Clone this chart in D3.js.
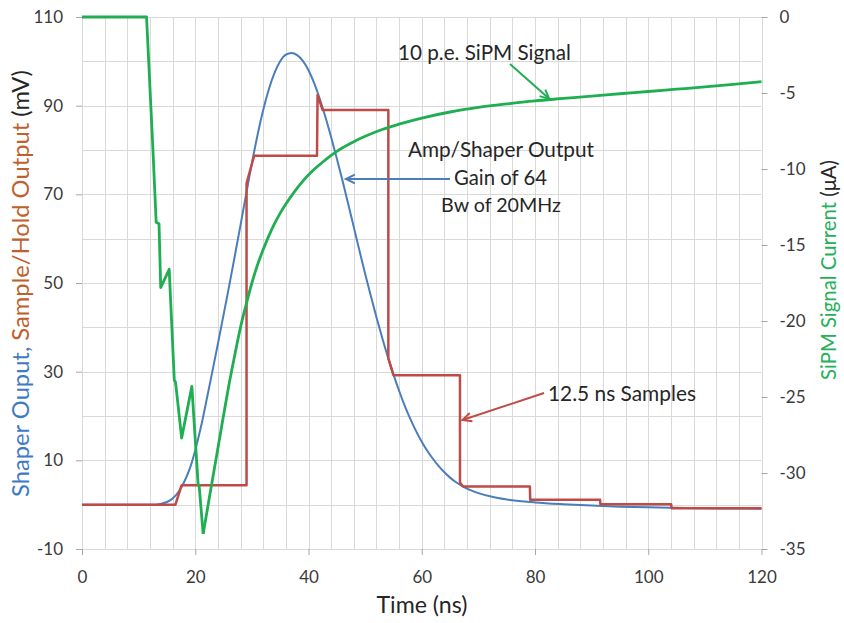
<!DOCTYPE html>
<html><head><meta charset="utf-8">
<script src="https://cdn.jsdelivr.net/npm/d3@7"></script>
<style>html,body{margin:0;padding:0;background:#fff;}svg{display:block;font-family:Lato,"Open Sans",sans-serif;}</style>
</head><body><svg id="c" width="844" height="623"></svg>
<script>
// ---- data ----
const xTicks = [0, 20, 40, 60, 80, 100, 120];
const yLeftTicks = [-10, 10, 30, 50, 70, 90, 110];
const yRightTicks = [-35, -30, -25, -20, -15, -10, -5, 0];

// Amp/Shaper output (mV) : time (ns), value
const shaperT = [0, 13, 14, 15, 16, 17, 18, 19, 20, 21, 22, 23, 24, 25, 26, 27, 28, 29, 30, 31, 32, 33, 34, 35, 36, 37, 38, 39, 40, 41, 42, 43, 44, 45, 46, 47, 48, 49, 50, 51, 52, 53, 54, 55, 56, 57, 58, 59, 60, 61, 62, 63, 64, 65, 66, 67, 68, 70, 73, 76, 80, 85, 90, 95, 100, 105, 110, 115, 120];
const shaperV = [0, 0, 0.2, 0.6, 1.4, 2.8, 5.0, 8.0, 12.3, 17.5, 23.6, 29.9, 36.3, 42.8, 49.4, 56.2, 63.1, 70.1, 77.0, 83.4, 89.0, 93.7, 97.4, 100.0, 101.5, 101.9, 101.4, 100.1, 98.0, 95.1, 91.5, 87.4, 82.9, 78.1, 73.1, 67.9, 62.6, 57.3, 52.1, 47.1, 42.3, 37.7, 33.4, 29.4, 25.7, 22.3, 19.3, 16.6, 14.2, 12.1, 10.3, 8.7, 7.3, 6.1, 5.1, 4.3, 3.6, 2.6, 1.6, 1.0, 0.5, 0.1, -0.2, -0.45, -0.6, -0.72, -0.8, -0.86, -0.9];

// Sample/Hold output (mV), 12.5 ns samples
const holdT = [0, 16.5, 17.6, 29.06, 29.06, 30.4, 41.5, 41.6, 42.5, 54.1, 54.1, 55.0, 66.75, 66.75, 67.3, 79.1, 79.15, 91.5, 91.55, 104.05, 104.1, 120];
const holdV = [0, 0, 4.4, 4.4, 72.5, 78.7, 78.7, 92.4, 89, 89, 33, 29.2, 29.2, 5, 4.1, 4.1, 1.1, 1.1, 0.1, 0.1, -0.8, -0.8];

// 10 p.e. SiPM signal current (uA)
const sipmT = [0, 11.4, 12.5, 13.1, 13.6, 13.9, 15.4, 16.3, 16.5, 16.6, 17.6, 19.4, 20.5, 20.7, 21.4, 22.5, 23.8, 25, 26, 27, 28, 29, 30, 31, 32, 33, 34, 35, 36, 37.5, 39, 40.5, 42, 44, 46, 48, 50, 53, 56, 60, 65, 70, 75, 80, 85, 90, 95, 100, 105, 110, 115, 120];
const sipmV = [0, 0, -8.5, -13.5, -13.6, -17.8, -16.6, -23.9, -24.0, -24.3, -27.7, -24.3, -30.7, -30.9, -34.0, -31.6, -28.8, -26.2, -24.1, -22.2, -20.4, -18.9, -17.5, -16.3, -15.3, -14.4, -13.6, -12.9, -12.3, -11.5, -10.8, -10.2, -9.7, -9.1, -8.6, -8.2, -7.85, -7.4, -7.05, -6.65, -6.25, -5.95, -5.72, -5.52, -5.36, -5.2, -5.05, -4.9, -4.75, -4.6, -4.43, -4.25];

// ---- layout ----
const svg = d3.select("#c");
const L = 82, R = 761.5, T = 17, B = 549;
const x = d3.scaleLinear().domain([0, 120]).range([L, R]);
const yL = d3.scaleLinear().domain([-10, 110]).range([B, T]);
const yR = d3.scaleLinear().domain([-35, 0]).range([B, T]);

const cBlue = "#4a7ebb", cRed = "#be4b48", cGreen = "#1fae52";
const gridC = "#d9d9d9", tickC = "#a6a6a6", labC = "#3a3a3a";

// grid
const g = svg.append("g");
g.selectAll("line.v").data(d3.range(0, 121, 4)).join("line")
  .attr("x1", d => Math.round(x(d)) + 0.5).attr("x2", d => Math.round(x(d)) + 0.5)
  .attr("y1", T).attr("y2", B).attr("stroke", gridC).attr("stroke-width", 1);
g.selectAll("line.h").data(d3.range(-10, 111, 10)).join("line")
  .attr("y1", d => Math.round(yL(d)) + 0.5).attr("y2", d => Math.round(yL(d)) + 0.5)
  .attr("x1", L).attr("x2", R).attr("stroke", gridC).attr("stroke-width", 1);

function styleAxis(sel) {
  sel.select(".domain").remove();
  sel.selectAll(".tick line").attr("stroke", tickC);
  sel.selectAll(".tick text").attr("fill", labC).attr("font-size", 17).attr("font-family", "Lato, sans-serif");
}
const fmt = d => String(d);
svg.append("g").attr("transform", `translate(${L},0)`)
  .call(d3.axisLeft(yL).tickValues(yLeftTicks).tickSize(6).tickPadding(13).tickFormat(fmt))
  .call(styleAxis);
svg.append("g").attr("transform", `translate(${R},0)`)
  .call(d3.axisRight(yR).tickValues(yRightTicks).tickSize(6).tickPadding(12).tickFormat(fmt))
  .call(styleAxis);
svg.append("g").attr("transform", `translate(0,${B})`)
  .call(d3.axisBottom(x).tickValues(xTicks).tickSize(6).tickPadding(16).tickFormat(fmt))
  .call(styleAxis);

// series
const shaper = shaperT.map((t, i) => [t, shaperV[i]]);
const hold = holdT.map((t, i) => [t, holdV[i]]);
const sipm = sipmT.map((t, i) => [t, sipmV[i]]);
const iMin = d3.minIndex(sipmV);
const sipmJag = sipm.slice(0, iMin + 1), sipmSmooth = sipm.slice(iMin);

svg.append("path")
  .attr("d", d3.line().x(d => x(d[0])).y(d => yL(d[1])).curve(d3.curveMonotoneX)(shaper))
  .attr("fill", "none").attr("stroke", cBlue).attr("stroke-width", 2);
svg.append("path")
  .attr("d", d3.line().x(d => x(d[0])).y(d => yL(d[1]))(hold))
  .attr("fill", "none").attr("stroke", cRed).attr("stroke-width", 2.5).attr("stroke-linejoin", "round");
svg.append("path")
  .attr("d", d3.line().x(d => x(d[0])).y(d => yR(d[1]))(sipmJag))
  .attr("fill", "none").attr("stroke", cGreen).attr("stroke-width", 2.8).attr("stroke-linejoin", "round");
svg.append("path")
  .attr("d", d3.line().x(d => x(d[0])).y(d => yR(d[1])).curve(d3.curveMonotoneX)(sipmSmooth))
  .attr("fill", "none").attr("stroke", cGreen).attr("stroke-width", 2.8).attr("stroke-linejoin", "round");

// text fitting helper
function fit(sel, width) {
  const n = sel.node(); const fs = parseFloat(sel.attr("font-size"));
  const w = n.getComputedTextLength();
  sel.attr("font-size", (fs * width / w).toFixed(2));
  return sel;
}
const txtC = "#262626";
function label(str, cx, by, width, anchor) {
  const t = svg.append("text").attr("x", cx).attr("y", by).attr("text-anchor", anchor || "middle")
    .attr("fill", txtC).attr("font-size", 17).text(str);
  fit(t, width);
  return t;
}
label("10 p.e. SiPM Signal", 484.5, 60, 173);
label("Amp/Shaper Output", 501, 157, 186);
label("Gain of 64", 500.5, 185, 93);
label("Bw of 20MHz", 501, 212, 120);
label("12.5 ns Samples", 548, 401, 148, "start");

// arrows
function arrow(x1, y1, x2, y2, col) {
  svg.append("line").attr("x1", x1).attr("y1", y1).attr("x2", x2).attr("y2", y2)
    .attr("stroke", col).attr("stroke-width", 2);
  const a = Math.atan2(y2 - y1, x2 - x1), len = 10, sp = 0.45;
  const p1 = [x2 - len * Math.cos(a - sp), y2 - len * Math.sin(a - sp)];
  const p2 = [x2 - len * Math.cos(a + sp), y2 - len * Math.sin(a + sp)];
  svg.append("path").attr("d", `M${p1}L${x2},${y2}L${p2}`).attr("fill", "none")
    .attr("stroke", col).attr("stroke-width", 2).attr("stroke-linejoin", "miter");
}
arrow(510, 64, x(82.5), yR(-5.45) - 1, cGreen);
arrow(450, 179, x(46.6), 179, cBlue);
arrow(544, 393, x(67.2), 420, cRed);

// axis titles
const tl = svg.append("text").attr("transform", "translate(29,283.5) rotate(-90)")
  .attr("text-anchor", "middle").attr("font-size", 20);
tl.append("tspan").attr("fill", "#3f7bc4").text("Shaper Ouput, ");
tl.append("tspan").attr("fill", "#c0602c").text("Sample/Hold Output ");
tl.append("tspan").attr("fill", txtC).text("(mV)");
fit(tl, 427);
const tr = svg.append("text").attr("transform", "translate(836,270) rotate(-90)")
  .attr("text-anchor", "middle").attr("font-size", 20);
tr.append("tspan").attr("fill", "#25b05a").text("SiPM Signal Current ");
tr.append("tspan").attr("fill", txtC).text("(μA)");
fit(tr, 220);
label("Time (ns)", 422, 613, 91);
</script></body></html>
